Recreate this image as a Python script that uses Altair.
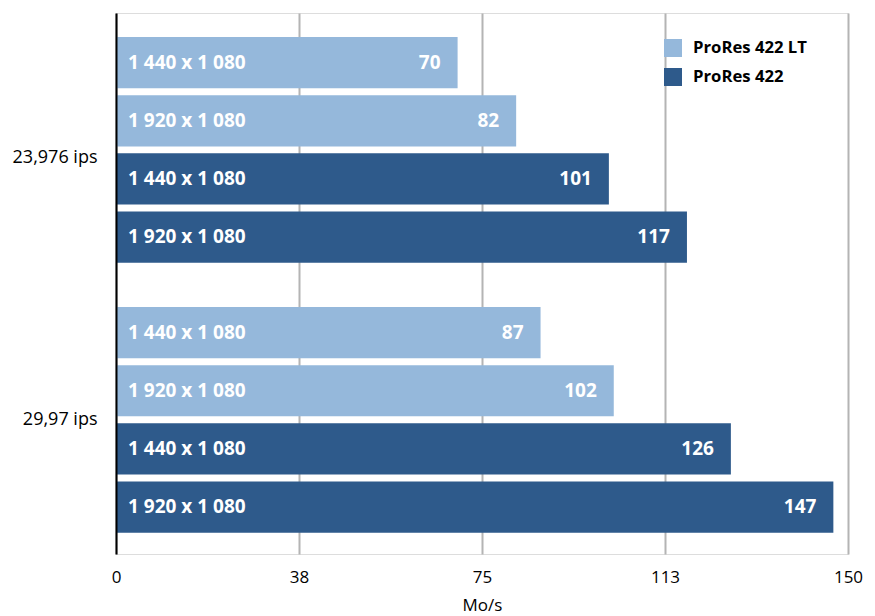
import altair as alt
import pandas as pd

groups = ["23,976 ips", "23,976 ips", "23,976 ips", "23,976 ips",
          "29,97 ips", "29,97 ips", "29,97 ips", "29,97 ips"]
codecs = ["ProRes 422 LT", "ProRes 422 LT", "ProRes 422", "ProRes 422",
          "ProRes 422 LT", "ProRes 422 LT", "ProRes 422", "ProRes 422"]
resolutions = ["1 440 x 1 080", "1 920 x 1 080", "1 440 x 1 080", "1 920 x 1 080",
               "1 440 x 1 080", "1 920 x 1 080", "1 440 x 1 080", "1 920 x 1 080"]
values = [70, 82, 101, 117, 87, 102, 126, 147]
slots = ["a", "b", "c", "d", "a", "b", "c", "d"]

group_order = ["23,976 ips", "29,97 ips"]
codec_order = ["ProRes 422 LT", "ProRes 422"]
codec_colors = ["#95b8db", "#2e5a8b"]
x_ticks = [0, 37.5, 75, 112.5, 150]

df = pd.DataFrame({"group": groups, "codec": codecs, "res": resolutions,
                   "value": values, "slot": slots})

FONT = "Open Sans"

y_enc = alt.Y("group:N", sort=group_order,
              scale=alt.Scale(paddingInner=0.164, paddingOuter=0.0839, align=0.53),
              axis=alt.Axis(title=None, ticks=False, domain=True, domainColor="#000000",
                            domainWidth=2, labelFontSize=18, labelColor="#000000",
                            labelFont=FONT, labelPadding=19, grid=False, zindex=1,
                            labelOffset=alt.expr("datum.value == '23,976 ips' ? 8 : 0")))
yoff = alt.YOffset("slot:N", scale=alt.Scale(paddingInner=0.12, paddingOuter=0))

base = alt.Chart(df)

bars = base.mark_bar().encode(
    x=alt.X("value:Q", scale=alt.Scale(domain=[0, 150], nice=False),
            axis=alt.Axis(title="Mo/s", values=x_ticks, format=".0f", grid=True,
                          gridColor="#b4b4b4", gridWidth=2, domain=False, ticks=False,
                          labelFlush=False,
                          labelFontSize=17, labelFont=FONT, labelColor="#000000",
                          labelPadding=15, titleFontSize=17, titleFont=FONT,
                          titleFontWeight="normal", titleColor="#000000", titlePadding=12)),
    y=y_enc,
    yOffset=yoff,
    color=alt.Color("codec:N", scale=alt.Scale(domain=codec_order, range=codec_colors),
                    legend=alt.Legend(title=None, orient="none", legendX=548, legendY=26,
                                      symbolType="square", symbolSize=324,
                                      symbolStrokeWidth=0, symbolOpacity=1,
                                      labelFontSize=16.7, labelFont=FONT,
                                      labelFontWeight="bold", labelColor="#000000",
                                      labelOffset=11, rowPadding=11, padding=0)),
)

res_text = base.mark_text(align="left", baseline="middle", dx=12, color="white",
                          fontWeight="bold", fontSize=19, font=FONT).encode(
    x=alt.datum(0), y=alt.Y("group:N", sort=group_order), yOffset="slot:N", text="res:N")

val_text = base.mark_text(align="right", baseline="middle", dx=-17, color="white",
                          fontWeight="bold", fontSize=19, font=FONT).encode(
    x="value:Q", y=alt.Y("group:N", sort=group_order), yOffset="slot:N", text="value:Q")

chart = (bars + res_text + val_text).properties(
    width=732, height=541,
    autosize=alt.AutoSizeParams(type="none"),
    padding={"left": 116, "top": 13, "right": 27, "bottom": 62},
).configure_view(stroke=None).configure(background="white")

chart.save("out.html", embed_options={"renderer": "svg", "actions": False})
